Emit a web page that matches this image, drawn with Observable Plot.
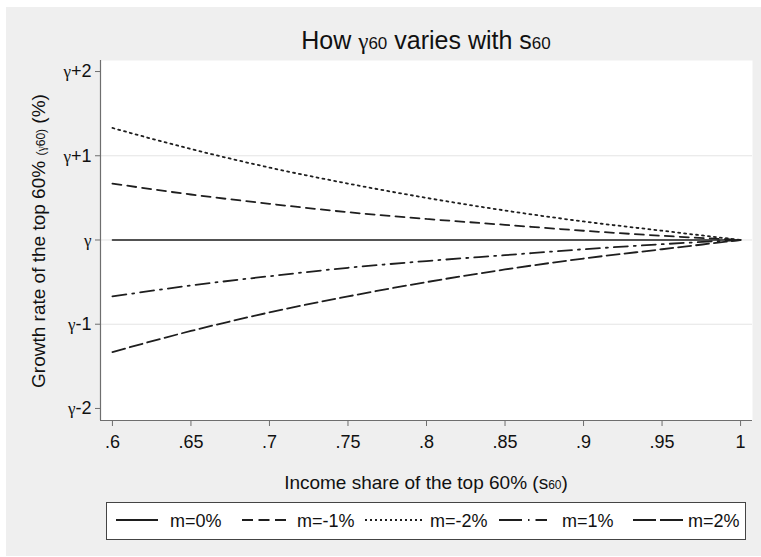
<!DOCTYPE html>
<html>
<head>
<meta charset="utf-8">
<script src="https://cdn.jsdelivr.net/npm/d3@7"></script>
<script src="https://cdn.jsdelivr.net/npm/@observablehq/plot@0.6"></script>
<style>
  body { margin: 0; background: #ffffff; }
  #wrap { position: absolute; left: 6px; top: 7px; width: 755px; height: 549px; background: #efefef;
          font-family: "Liberation Sans", Arial, sans-serif; color: #111; }
  #chart { position: absolute; left: 0; top: 0; }
  .g { font-family: "Liberation Serif", "DejaVu Serif", serif; }
  #title { position: absolute; left: 94px; width: 652px; top: 21px; text-align: center; font-size: 25px; line-height: 1; white-space: nowrap; }
  #xlabel { position: absolute; left: 94px; width: 652px; top: 466px; text-align: center; font-size: 19px; line-height: 1; white-space: nowrap; }
  #ylabel { position: absolute; left: -167px; top: 224px; width: 400px; height: 20px; line-height: 20px; text-align: center;
            font-size: 19px; white-space: nowrap; transform: rotate(-90deg); transform-origin: 200px 10px; }
  #legend { position: absolute; left: 100px; top: 495px; width: 638px; height: 36px; background: #fff; border: 1px solid #444; box-sizing: content-box; }
</style>
</head>
<body>
<div id="wrap">
  <div id="chart"></div>
  <div id="title">How <span class="g" style="font-size:23px">γ</span><span style="font-size:17px">60</span> varies with s<span style="font-size:17px">60</span></div>
  <div id="ylabel">Growth rate of the top 60% <span style="font-size:12px">(<span class="g">γ</span>60)</span> (%)</div>
  <div id="xlabel">Income share of the top 60% (s<span style="font-size:12px">60</span>)</div>
  <div id="legend"></div>
</div>
<script>
// ---- data ----
const shares = [0.6, 0.65, 0.7, 0.75, 0.8, 0.85, 0.9, 0.95, 1];
const m0     = [0, 0, 0, 0, 0, 0, 0, 0, 0];
const mNeg1  = [0.67, 0.54, 0.43, 0.33, 0.25, 0.18, 0.11, 0.05, 0];
const mNeg2  = [1.33, 1.08, 0.86, 0.67, 0.50, 0.35, 0.22, 0.11, 0];
const mPos1  = [-0.67, -0.54, -0.43, -0.33, -0.25, -0.18, -0.11, -0.05, 0];
const mPos2  = [-1.33, -1.08, -0.86, -0.67, -0.50, -0.35, -0.22, -0.11, 0];
const seriesNames = ["m=0%", "m=-1%", "m=-2%", "m=1%", "m=2%"];
const seriesValues = [m0, mNeg1, mNeg2, mPos1, mPos2];

const xTicks = [0.6, 0.65, 0.7, 0.75, 0.8, 0.85, 0.9, 0.95, 1];
const xTickLabels = [".6", ".65", ".7", ".75", ".8", ".85", ".9", ".95", "1"];
const yTicks = [-2, -1, 0, 1, 2];
const yTickLabels = ["γ-2", "γ-1", "γ", "γ+1", "γ+2"];

// ---- styles ----
const dashes = ["none", "9,6", "2,4", "14,6,2,6", "13,5"];
const legendDashes = ["none", "11,5.5", "2,3", "23,6,1.5,6,12", "23,4"];
const ink = "#1e1e1e";

const rows = [];
seriesNames.forEach((name, k) => shares.forEach((s, i) => rows.push({s, v: seriesValues[k][i], series: name})));

const xMap = new Map(xTicks.map((t, i) => [t, xTickLabels[i]]));
const yMap = new Map(yTicks.map((t, i) => [t, yTickLabels[i]]));
const xDomain = [0.5924, 1.0076];
const yDomain = [-2.143, 2.131];

const chart = Plot.plot({
  width: 755, height: 549,
  marginLeft: 94, marginRight: 9, marginTop: 53, marginBottom: 136,
  style: {background: "transparent", fontFamily: "'Liberation Sans', Arial, sans-serif", fontSize: "18px", color: "#111", overflow: "visible"},
  x: {domain: xDomain, label: null},
  y: {domain: yDomain, label: null},
  marks: [
    Plot.frame({fill: "white", stroke: null}),
    Plot.gridY(yTicks.filter(d => Math.abs(d) < 2), {stroke: "#e4e4e4", strokeOpacity: 1, strokeWidth: 1}),
    Plot.ruleX([xDomain[0]], {stroke: "#6e6e6e", strokeWidth: 1.2}),
    Plot.ruleY([yDomain[0]], {stroke: "#6e6e6e", strokeWidth: 1.2}),
    Plot.axisX({ticks: xTicks, tickFormat: d => xMap.get(d), tickSize: 6, tickPadding: 9, stroke: "#6e6e6e", label: null, fontSize: 18}),
    Plot.axisY({ticks: yTicks, tickFormat: d => yMap.get(d), tickSize: 5, tickPadding: 4, stroke: "#6e6e6e", label: null, fontSize: 18, ariaLabel: "y-axis tick label"}),
    ...seriesNames.map((name, k) =>
      Plot.line(rows.filter(r => r.series === name), {
        x: "s", y: "v", curve: "monotone-x",
        stroke: ink, strokeWidth: k === 0 ? 1.5 : 1.8,
        strokeDasharray: dashes[k] === "none" ? undefined : dashes[k]
      })
    )
  ]
});
document.getElementById("chart").appendChild(chart);

// style the leading gamma of the y tick labels like a symbol glyph
d3.select(chart).selectAll("text").each(function () {
  const t = d3.select(this);
  const txt = t.text();
  if (yTickLabels.includes(txt)) {
    t.text(null);
    t.append("tspan").attr("font-family", "'Liberation Serif', 'DejaVu Serif', serif").attr("font-size", 17).text(txt.slice(0, 1));
    if (txt.length > 1) t.append("tspan").text(txt.slice(1));
  }
});

// ---- legend ----
const legendItems = [
  {x1: 9,   x2: 51,  tx: 63},
  {x1: 135, x2: 179, tx: 190},
  {x1: 258, x2: 317, tx: 323},
  {x1: 392, x2: 440, tx: 455},
  {x1: 526, x2: 576, tx: 581}
];
const lg = d3.select("#legend").append("svg").attr("width", 638).attr("height", 36);
seriesNames.forEach((name, k) => {
  const it = legendItems[k];
  lg.append("line").attr("x1", it.x1).attr("x2", it.x2).attr("y1", 17).attr("y2", 17)
    .attr("stroke", ink).attr("stroke-width", 1.8)
    .attr("stroke-dasharray", legendDashes[k] === "none" ? null : legendDashes[k]);
  lg.append("text").attr("x", it.tx).attr("y", 24).text(name)
    .attr("font-size", 18).attr("fill", "#111")
    .attr("font-family", "'Liberation Sans', Arial, sans-serif");
});
</script>
</body>
</html>
